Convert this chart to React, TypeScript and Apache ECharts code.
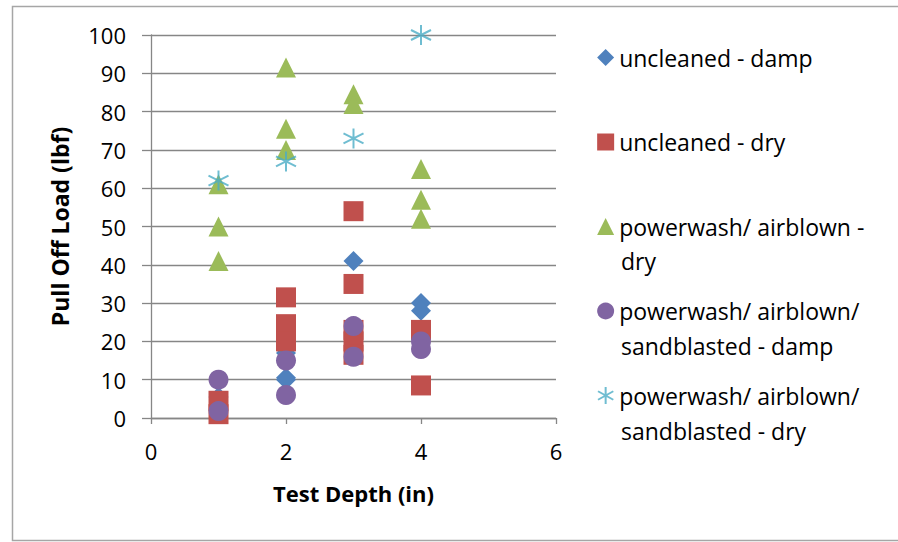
import React, { useEffect, useRef } from "react";
import * as echarts from "echarts";

const seriesNames = [
  "uncleaned - damp",
  "uncleaned - dry",
  "powerwash/ airblown - dry",
  "powerwash/ airblown/ sandblasted - damp",
  "powerwash/ airblown/ sandblasted - dry",
];
const legendFirstLines = [
  "uncleaned - damp",
  "uncleaned - dry",
  "powerwash/ airblown -",
  "powerwash/ airblown/",
  "powerwash/ airblown/",
];
const legendSecondLines = ["", "", "dry", "sandblasted - damp", "sandblasted - dry"];

const uncleanedDamp: [number, number][] = [
  [1, 5.5], [2, 10.5], [2, 10], [2, 17], [3, 41], [4, 30], [4, 28],
];
const uncleanedDry: [number, number][] = [
  [1, 4.5], [1, 1], [2, 31.5], [2, 24.5], [2, 20], [3, 54], [3, 35], [3, 23], [3, 20], [3, 16.5], [4, 23], [4, 8.5],
];
const powerwashDry: [number, number][] = [
  [1, 61], [1, 50], [1, 41], [2, 91.5], [2, 75.5], [2, 70], [3, 84.5], [3, 82], [4, 65], [4, 57], [4, 52],
];
const sandblastedDamp: [number, number][] = [
  [1, 10], [1, 1.8], [2, 15], [2, 6], [3, 24], [3, 16], [4, 20], [4, 18],
];
const sandblastedDry: [number, number][] = [
  [1, 62], [2, 67], [3, 73], [4, 100],
];

const colors = ["#4F81BD", "#C0504D", "#9BBB59", "#8064A2", "#4BACC6"];
const symbols = [
  "diamond",
  "rect",
  "triangle",
  "circle",
  "path://M10,0L10,20M1,5L19,15M1,15L19,5",
];
const allData = [uncleanedDamp, uncleanedDry, powerwashDry, sandblastedDamp, sandblastedDry];

const FONT = "'Open Sans', sans-serif";

export default function App() {
  const ref = useRef<HTMLDivElement>(null);
  useEffect(() => {
    if (!ref.current) return;
    const chart = echarts.init(ref.current, null, { renderer: "svg" });
    const series = allData.map((d, i) => {
      const isStar = i === 4;
      return {
        name: seriesNames[i],
        type: "scatter",
        data: d,
        symbol: symbols[i],
        symbolSize: 20,
        itemStyle: isStar
          ? { color: "rgba(0,0,0,0)", borderColor: colors[i], borderWidth: 2 }
          : { color: colors[i], opacity: 1 },
        emphasis: { disabled: true },
      };
    });
    const legendMap: Record<string, string> = {};
    seriesNames.forEach((n, i) => (legendMap[n] = legendFirstLines[i]));
    const secondLineTops = [0, 0, 249, 334, 419];
    chart.setOption({
      animation: false,
      backgroundColor: "#ffffff",
      grid: { left: 151, right: 342, top: 35, bottom: 124, containLabel: false },
      xAxis: {
        type: "value",
        min: 0,
        max: 6,
        interval: 2,
        name: "Test Depth (in)",
        nameLocation: "middle",
        nameGap: 64,
        nameTextStyle: { fontFamily: FONT, fontWeight: "bold", fontSize: 22, color: "#000" },
        axisLine: { show: true, lineStyle: { color: "#868686", width: 1.3 } },
        axisTick: { show: true, inside: false, length: 6, lineStyle: { color: "#868686", width: 1.3 } },
        axisLabel: { fontFamily: FONT, fontSize: 22, color: "#000", margin: 22 },
        splitLine: { show: false },
      },
      yAxis: {
        type: "value",
        min: 0,
        max: 100,
        interval: 10,
        name: "Pull Off Load (lbf)",
        nameLocation: "middle",
        nameGap: 80,
        nameRotate: 90,
        nameTextStyle: { fontFamily: FONT, fontWeight: "bold", fontSize: 23, color: "#000" },
        axisLine: { show: true, lineStyle: { color: "#868686", width: 1.3 } },
        axisTick: { show: true, inside: false, length: 9, lineStyle: { color: "#868686", width: 1.3 } },
        axisLabel: { fontFamily: FONT, fontSize: 22, color: "#000", margin: 25 },
        splitLine: { show: true, lineStyle: { color: "#868686", width: 1.3 } },
      },
      legend: {
        orient: "vertical",
        left: 597,
        top: 46,
        padding: 0,
        itemWidth: 17,
        itemHeight: 17,
        itemGap: 61.5,
        selectedMode: false,
        data: seriesNames,
        formatter: (n: string) => legendMap[n],
        textStyle: { fontFamily: FONT, fontSize: 23, color: "#000" },
      },
      graphic: [
        {
          type: "rect",
          shape: { x: 12.5, y: 6.5, width: 900, height: 534 },
          style: { fill: "none", stroke: "#a6a6a6", lineWidth: 1.5 },
          silent: true,
          z: -10,
        },
        ...legendSecondLines
          .map((t, i) => ({ t, i }))
          .filter((o) => o.t)
          .map((o) => ({
            type: "text",
            left: 621,
            top: secondLineTops[o.i],
            style: { text: o.t, font: `23px ${FONT}`, fill: "#000" },
            silent: true,
          })),
      ],
      series,
    });
    return () => chart.dispose();
  }, []);
  return (
    <div
      ref={ref}
      style={{ position: "absolute", left: 0, top: 0, width: 898, height: 542, background: "#fff" }}
    />
  );
}
